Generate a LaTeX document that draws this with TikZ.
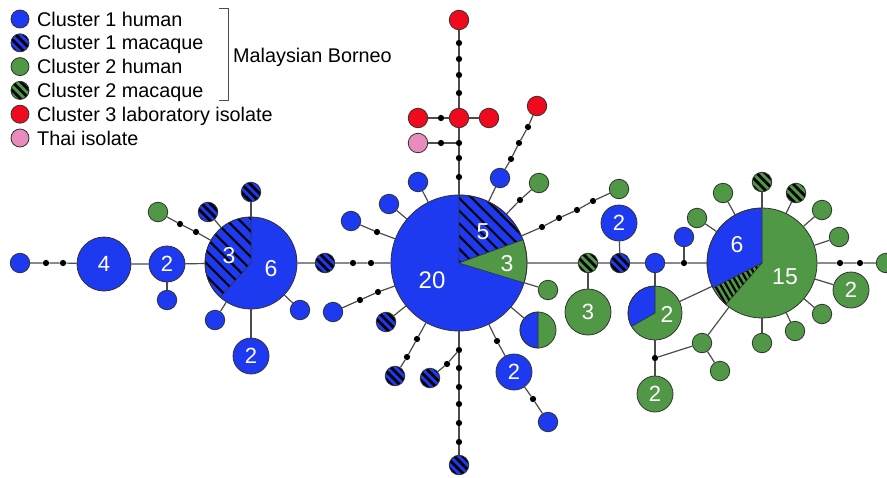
\documentclass[tikz,border=0pt]{standalone}
\usepackage{fontspec}
\setmainfont{Liberation Sans}
\usetikzlibrary{patterns.meta}
\definecolor{cblue}{RGB}{30,58,240}
\definecolor{cgreen}{RGB}{80,152,70}
\definecolor{cred}{RGB}{240,10,30}
\definecolor{cpink}{RGB}{232,140,190}
\definecolor{outl}{RGB}{50,50,50}
\definecolor{edgec}{RGB}{75,75,75}
\begin{document}
\begin{tikzpicture}[x=1pt,y=-1pt,
  hap/.style={circle,draw=outl,line width=0.8pt,inner sep=0pt,text=white,font=\fontsize{22}{22}\selectfont},
  sm/.style={hap,minimum size=19.5pt},
  mid/.style={hap,minimum size=36pt},
  cb/.style={fill=cblue}, cg/.style={fill=cgreen}, cr/.style={fill=cred}, cp/.style={fill=cpink},
  mb/.style={preaction={fill=cblue},pattern={Lines[angle=-45,distance=6pt,line width=2.8pt]},pattern color=black},
  mg/.style={preaction={fill=cgreen},pattern={Lines[angle=-45,distance=6pt,line width=2.8pt]},pattern color=black},
  mbw/.style={preaction={fill=cblue},pattern={Lines[angle=-45,distance=9pt,line width=2.1pt]},pattern color=black},
  mgw/.style={preaction={fill=cgreen},pattern={Lines[angle=-60,distance=5pt,line width=2.2pt]},pattern color=black},
  dot/.style={circle,fill=black,inner sep=0pt,minimum size=6.3pt},
  lk/.style={draw=edgec,line width=1.2pt},
  wedge/.style={draw=outl,line width=0.6pt},
  lbl/.style={text=white,font=\fontsize{23}{23}\selectfont,inner sep=0pt},
  leg/.style={anchor=base west,font=\fontsize{19.8}{20}\selectfont,text=black,inner sep=0pt},
  lgc/.style={hap,minimum size=18pt}
]
\useasboundingbox (0,0) rectangle (887,477);

% ---------- legend ----------
\node[lgc,cb] (lg1) at (20,19) {};
\node[lgc,mb] (lg2) at (20,42.8) {};
\node[lgc,cg] (lg3) at (20,66.6) {};
\node[lgc,mg] (lg4) at (20,90.4) {};
\node[lgc,cr] (lg5) at (20,114.2) {};
\node[lgc,cp] (lg6) at (20,138) {};
\node[leg] (lt1) at (37,26) {Cluster 1 human};
\node[leg] (lt2) at (37,49.8) {Cluster 1 macaque};
\node[leg] (lt3) at (37,73.6) {Cluster 2 human};
\node[leg] (lt4) at (37,97.4) {Cluster 2 macaque};
\node[leg] (lt5) at (37,121.2) {Cluster 3 laboratory isolate};
\node[leg] (lt6) at (37,145) {Thai isolate};
\coordinate (bt1) at (219,8);
\coordinate (bt2) at (228,8);
\coordinate (bb2) at (228,100);
\coordinate (bb1) at (219,100);
\draw[draw=edgec,line width=1pt] (bt1) -- (bt2) -- (bb2) -- (bb1);
\node[leg] (mb) at (233,62) {Malaysian Borneo};

% ---------- pies ----------
\fill[cblue] (251,263) circle[radius=46];
\path[wedge,mbw] (251,263) -- ++(-90:46) arc[start angle=-90,end angle=-228,radius=46] -- cycle;
\node[hap,minimum size=92pt] (L) at (251,263) {};
\node[lbl] (L3) at (229,256) {3};
\node[lbl] (L6) at (271,269) {6};

\fill[cblue] (459,263) circle[radius=68];
\path[wedge,mbw] (459,263) -- ++(-90:68) arc[start angle=-90,end angle=-20,radius=68] -- cycle;
\path[wedge,fill=cgreen] (459,263) -- ++(-20:68) arc[start angle=-20,end angle=17,radius=68] -- cycle;
\node[hap,minimum size=136pt] (C) at (459,263) {};
\node[lbl,font=\fontsize{24}{24}\selectfont] (C20) at (432,280) {20};
\node[lbl] (C5) at (483,232) {5};
\node[lbl] (C3) at (507,264) {3};

\fill[cgreen] (762,263) circle[radius=55];
\path[wedge,fill=cblue] (762,263) -- ++(-90:55) arc[start angle=-90,end angle=-207,radius=55] -- cycle;
\path[wedge,mgw] (762,263) -- ++(-207:55) arc[start angle=-207,end angle=-229,radius=55] -- cycle;
\node[hap,minimum size=110pt] (R) at (762,263) {};
\node[lbl] (R6) at (737,245) {6};
\node[lbl] (R15) at (785,277) {15};

\fill[cgreen] (655,313) circle[radius=27];
\path[wedge,fill=cblue] (655,313) -- ++(-90:27) arc[start angle=-90,end angle=-210,radius=27] -- cycle;
\node[hap,minimum size=54pt] (P) at (655,313) {};
\node[lbl] (P2) at (667,314) {2};

\fill[cgreen] (538,330) circle[radius=18];
\path[wedge,fill=cblue] (538,330) -- ++(-90:18) arc[start angle=-90,end angle=-270,radius=18] -- cycle;
\node[hap,minimum size=36pt] (hf) at (538,330) {};

% ---------- left part ----------
\node[sm,cb] (b1) at (20,263) {};
\node[dot] (d1) at (46,263) {};
\node[dot] (d2) at (63,263) {};
\node[hap,cb,minimum size=54pt] (n4) at (104,264) {4};
\node[mid,cb] (n2a) at (167,264) {2};
\node[sm,cb] (b2) at (167,300) {};
\node[sm,mb] (hL1) at (251,192) {};
\node[sm,mb] (hL2) at (208,212) {};
\node[sm,cg] (gL) at (158,212) {};
\node[dot] (dL1) at (180,224) {};
\node[dot] (dL2) at (196,232) {};
\node[sm,cb] (bL3) at (215,320) {};
\node[sm,cb] (bL4) at (300,310) {};
\node[mid,cb] (n2b) at (251,356) {2};
\node[sm,mb] (hM) at (325,263) {};
\node[dot] (dM1) at (353,263) {};
\node[dot] (dM2) at (371,263) {};

% ---------- centre ----------
\node[sm,cb] (bC1) at (333,312) {};
\node[dot] (dC1) at (360,300) {};
\node[dot] (dC2) at (378,292) {};
\node[sm,mb] (hC1) at (386,322) {};
\node[sm,mb] (hC2) at (395,376) {};
\node[dot] (dC3) at (407,357) {};
\node[dot] (dC4) at (417,339) {};
\node[sm,mb] (hC3) at (430,378) {};
\node[dot] (dC5) at (447,364) {};
\node[dot] (dV1) at (459,350) {};
\node[dot] (dV2) at (459,368) {};
\node[dot] (dV3) at (459,387) {};
\node[dot] (dV4) at (459,404) {};
\node[dot] (dV5) at (459,423) {};
\node[dot] (dV6) at (459,442) {};
\node[sm,mb] (hC4) at (459,465) {};
\node[sm,cb] (bC2) at (351,221) {};
\node[dot] (dC6) at (377,232) {};
\node[sm,cb] (bC3) at (389,204) {};
\node[sm,cb] (bC4) at (418,182) {};
\node[dot] (dU1) at (459,177) {};
\node[dot] (dU2) at (459,158) {};
\node[dot] (dU3) at (459,143) {};
\node[sm,cp] (pk) at (418,143) {};
\node[dot] (dP) at (441,143) {};
\node[sm,cr] (rc) at (459,118) {};
\node[sm,cr] (rl) at (418,118) {};
\node[dot] (dR1) at (441,118) {};
\node[sm,cr] (rr) at (489,118) {};
\node[dot] (dU4) at (459,93) {};
\node[dot] (dU5) at (459,75) {};
\node[dot] (dU6) at (459,59) {};
\node[dot] (dU7) at (459,43) {};
\node[sm,cr] (rt) at (459,20) {};
\node[sm,cb] (bC5) at (500,178) {};
\node[dot] (dR2) at (511,159) {};
\node[dot] (dR3) at (519,143) {};
\node[dot] (dR4) at (528,127) {};
\node[sm,cr] (rur) at (537,106) {};
\node[sm,cg] (gC1) at (539,183) {};
\node[dot] (dG1) at (520,200) {};
\node[sm,cg] (gC2) at (619,189) {};
\node[dot] (dG2) at (593,201) {};
\node[dot] (dG3) at (577,210) {};
\node[dot] (dG4) at (559,218) {};
\node[dot] (dG5) at (542,227) {};
\node[sm,cg] (gC3) at (548,290) {};
\node[mid,cb] (n2c) at (514,372) {2};
\node[dot] (dB1) at (497,341) {};
\node[dot] (dB2) at (533,399) {};
\node[sm,cb] (bC6) at (548,422) {};

% ---------- right part ----------
\node[sm,mg] (hg) at (588,263) {};
\node[hap,cg,minimum size=46pt] (n3g) at (588,312) {3};
\node[sm,mb] (hb2) at (620,263) {};
\node[mid,cb] (n2d) at (619,223) {2};
\node[sm,cb] (b655) at (655,263) {};
\node[dot] (dJ) at (684,263) {};
\node[sm,cb] (bJ) at (684,237) {};
\node[sm,cg] (gR1) at (697,218) {};
\node[sm,cg] (gR2) at (723,193) {};
\node[sm,mg] (hgR1) at (762,182) {};
\node[sm,mg] (hgR2) at (796,193) {};
\node[sm,cg] (gR3) at (822,210) {};
\node[sm,cg] (gR4) at (839,237) {};
\node[dot] (dR5) at (840,263) {};
\node[dot] (dR6) at (860,263) {};
\node[sm,cg] (gEnd) at (886,263) {};
\node[mid,cg] (n2e) at (851,290) {2};
\node[sm,cg] (gR5) at (822,314) {};
\node[sm,cg] (gR6) at (795,331) {};
\node[sm,cg] (gR7) at (762,343) {};
\node[sm,cg] (gR8) at (702,343) {};
\node[sm,cg] (gR9) at (720,371) {};
\node[dot] (dP2) at (655,358) {};
\node[mid,cg] (n2f) at (655,394) {2};

% ---------- links ----------
\path[lk] (b1) -- (d1) -- (d2) -- (n4) -- (n2a) -- (L) -- (hM) -- (dM1) -- (dM2) -- (C)
  -- (hg) -- (hb2) -- (b655) -- (dJ) -- (R) -- (dR5) -- (dR6) -- (gEnd);
\path[lk] (n2a) -- (b2);
\path[lk] (L) -- (hL1);
\path[lk] (L) -- (hL2);
\path[lk] (gL) -- (dL1) -- (dL2) -- (L);
\path[lk] (L) -- (bL3);
\path[lk] (L) -- (bL4);
\path[lk] (L) -- (n2b);
\path[lk] (bC1) -- (dC1) -- (dC2) -- (C);
\path[lk] (hC1) -- (C);
\path[lk] (hC2) -- (dC3) -- (dC4) -- (C);
\path[lk] (C) -- (dV1) -- (dV2) -- (dV3) -- (dV4) -- (dV5) -- (dV6) -- (hC4);
\path[lk] (hC3) -- (dC5) -- (dV1);
\path[lk] (bC2) -- (dC6) -- (C);
\path[lk] (bC3) -- (C);
\path[lk] (bC4) -- (C);
\path[lk] (C) -- (dU1) -- (dU2) -- (dU3) -- (rc) -- (dU4) -- (dU5) -- (dU6) -- (dU7) -- (rt);
\path[lk] (pk) -- (dP) -- (dU3);
\path[lk] (rl) -- (dR1) -- (rc);
\path[lk] (rc) -- (rr);
\path[lk] (rur) -- (dR4) -- (dR3) -- (dR2) -- (bC5) -- (C);
\path[lk] (gC1) -- (dG1) -- (C);
\path[lk] (gC2) -- (dG2) -- (dG3) -- (dG4) -- (dG5) -- (C);
\path[lk] (gC3) -- (C);
\path[lk] (hf) -- (C);
\path[lk] (n2c) -- (dB1) -- (C);
\path[lk] (n2c) -- (dB2) -- (bC6);
\path[lk] (hg) -- (n3g);
\path[lk] (hb2) -- (n2d);
\path[lk] (b655) -- (P);
\path[lk] (dJ) -- (bJ);
\path[lk] (P) -- (R);
\path[lk] (P) -- (dP2) -- (n2f);
\path[lk] (dP2) -- (gR8);
\path[lk] (gR8) -- (R);
\path[lk] (gR8) -- (gR9);
\foreach \t in {gR1,gR2,hgR1,hgR2,gR3,gR4,n2e,gR5,gR6,gR7} {\path[lk] (R) -- (\t);}
\end{tikzpicture}
\end{document}
